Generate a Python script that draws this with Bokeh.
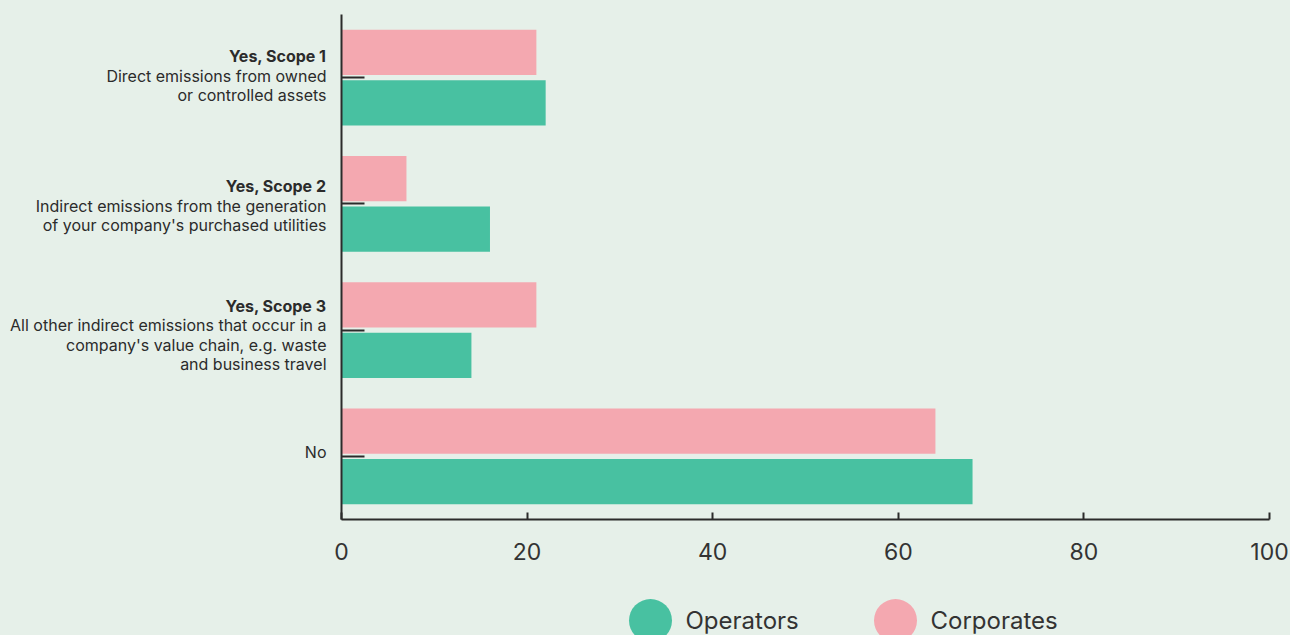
from jinja2 import Template
from bokeh.plotting import figure
from bokeh.layouts import row, column
from bokeh.models import (FactorRange, Range1d, FixedTicker, ColumnDataSource,
                          CustomLabelingPolicy)
from bokeh.transform import dodge
from bokeh.core.properties import value
from bokeh.embed import file_html
from bokeh.resources import INLINE

# ---------------- data ----------------
categories = ["Yes, Scope 1", "Yes, Scope 2", "Yes, Scope 3", "No"]
titles = ["Yes, Scope 1", "Yes, Scope 2", "Yes, Scope 3", ""]
descriptions = [
    ["Direct emissions from owned", "or controlled assets"],
    ["Indirect emissions from the generation", "of your company's purchased utilities"],
    ["All other indirect emissions that occur in a",
     "company's value chain, e.g. waste", "and business travel"],
    ["No"],
]
operators = [22, 16, 14, 68]
corporates = [21, 7, 21, 64]
series = ["Operators", "Corporates"]
x_ticks = [0, 20, 40, 60, 80, 100]

# ---------------- style ----------------
BG = "#E6F0E9"
TEAL = "#48C1A1"
PINK = "#F4A8B0"
INK = "#2b2b2b"
FONT = "Inter"

TOP_H = 575          # height of label panel + chart
LEG_H = 60           # height of legend strip
LABEL_W = 330        # width of category label panel
MAIN_W = 1290 - LABEL_W
BORDER_TOP = 14
BORDER_BOTTOM = TOP_H - 519

y_range = FactorRange(*reversed(categories), range_padding=0, factor_padding=0)

# ---------------- main chart ----------------
src = ColumnDataSource(dict(cat=categories, operators=operators, corporates=corporates))

p = figure(width=MAIN_W, height=TOP_H, y_range=y_range, x_range=Range1d(0, 100),
           output_backend="svg", toolbar_location=None,
           min_border_left=341 - LABEL_W, min_border_right=21,
           min_border_top=BORDER_TOP, min_border_bottom=BORDER_BOTTOM)
p.background_fill_color = BG
p.border_fill_color = BG
p.outline_line_color = None
p.xgrid.grid_line_color = None
p.ygrid.grid_line_color = None

p.hbar(y=dodge("cat", 0.2, range=y_range), right="corporates", left=0,
       height=0.36, source=src, fill_color=PINK, line_color=None)
p.hbar(y=dodge("cat", -0.2, range=y_range), right="operators", left=0,
       height=0.36, source=src, fill_color=TEAL, line_color=None)

xa = p.xaxis[0]
xa.ticker = FixedTicker(ticks=x_ticks)
xa.axis_line_color = INK
xa.axis_line_width = 2
xa.major_tick_line_color = INK
xa.major_tick_line_width = 2
xa.major_tick_in = 7
xa.major_tick_out = 0
xa.minor_tick_line_color = None
xa.major_label_text_font = FONT
xa.major_label_text_font_size = "23px"
xa.major_label_text_color = "#333333"
xa.major_label_standoff = 23

# y axis: line + inward ticks only (category texts are drawn in the label panel)
ya = p.yaxis[0]
ya.axis_line_color = INK
ya.axis_line_width = 2
ya.major_tick_line_color = INK
ya.major_tick_line_width = 2
ya.major_tick_in = 23
ya.major_tick_out = 0
ya.major_label_standoff = 0
ya.major_label_text_font_size = "0px"
ya.major_label_policy = CustomLabelingPolicy(code="""
    for (const i of indices) { indices.unset(i) }
    return indices
""")

# ---------------- category labels panel ----------------
shifts = [-2, 2, 5, -4]
line_h = 19.5
rows = dict(cat=[], txt=[], style=[], yoff=[])
for k, cat in enumerate(categories):
    lines = ([(titles[k], "bold")] if titles[k] else []) + [(d, "normal") for d in descriptions[k]]
    n = len(lines)
    for i, (txt, style) in enumerate(lines):
        rows["cat"].append(cat)
        rows["txt"].append(txt)
        rows["style"].append(style)
        rows["yoff"].append(shifts[k] + (i - (n - 1) / 2) * line_h)
rows["x"] = [LABEL_W - 4] * len(rows["cat"])

lp = figure(width=LABEL_W, height=TOP_H, y_range=y_range, x_range=Range1d(0, LABEL_W),
            output_backend="svg", toolbar_location=None,
            x_axis_location=None, y_axis_location=None,
            min_border_left=0, min_border_right=0,
            min_border_top=BORDER_TOP, min_border_bottom=BORDER_BOTTOM)
lp.background_fill_color = BG
lp.border_fill_color = BG
lp.outline_line_color = None
lp.grid.grid_line_color = None
lp.text(x="x", y="cat", text="txt", y_offset="yoff", source=ColumnDataSource(rows),
        text_align="right", text_baseline="middle",
        text_font=value(FONT), text_font_size="16px", text_font_style="style",
        text_color=INK)

# ---------------- legend strip ----------------
g = figure(width=1290, height=LEG_H, x_range=Range1d(0, 1290), y_range=Range1d(0, LEG_H),
           output_backend="svg", toolbar_location=None,
           x_axis_location=None, y_axis_location=None,
           min_border_left=0, min_border_right=0, min_border_top=0, min_border_bottom=0)
g.background_fill_color = BG
g.border_fill_color = BG
g.outline_line_color = None
g.grid.grid_line_color = None

legend_x = [650, 895]
legend_y = [LEG_H - 45] * 2
legend_src = ColumnDataSource(dict(x=legend_x, y=legend_y, tx=[x + 35 for x in legend_x],
                                   name=series, color=[TEAL, PINK]))
g.scatter(x="x", y="y", marker="circle", size=43, fill_color="color", line_color=None,
          source=legend_src)
g.text(x="tx", y="y", text="name", source=legend_src, text_align="left",
       text_baseline="middle", text_font=value(FONT), text_font_size="24px",
       text_color="#333333")

layout = column(row(lp, p), g)

tpl = Template("""{% extends base %}
{% block preamble %}<style>html, body { background: #E6F0E9; }</style>{% endblock %}""")

open("out.html", "w").write(file_html(layout, INLINE, template=tpl))
